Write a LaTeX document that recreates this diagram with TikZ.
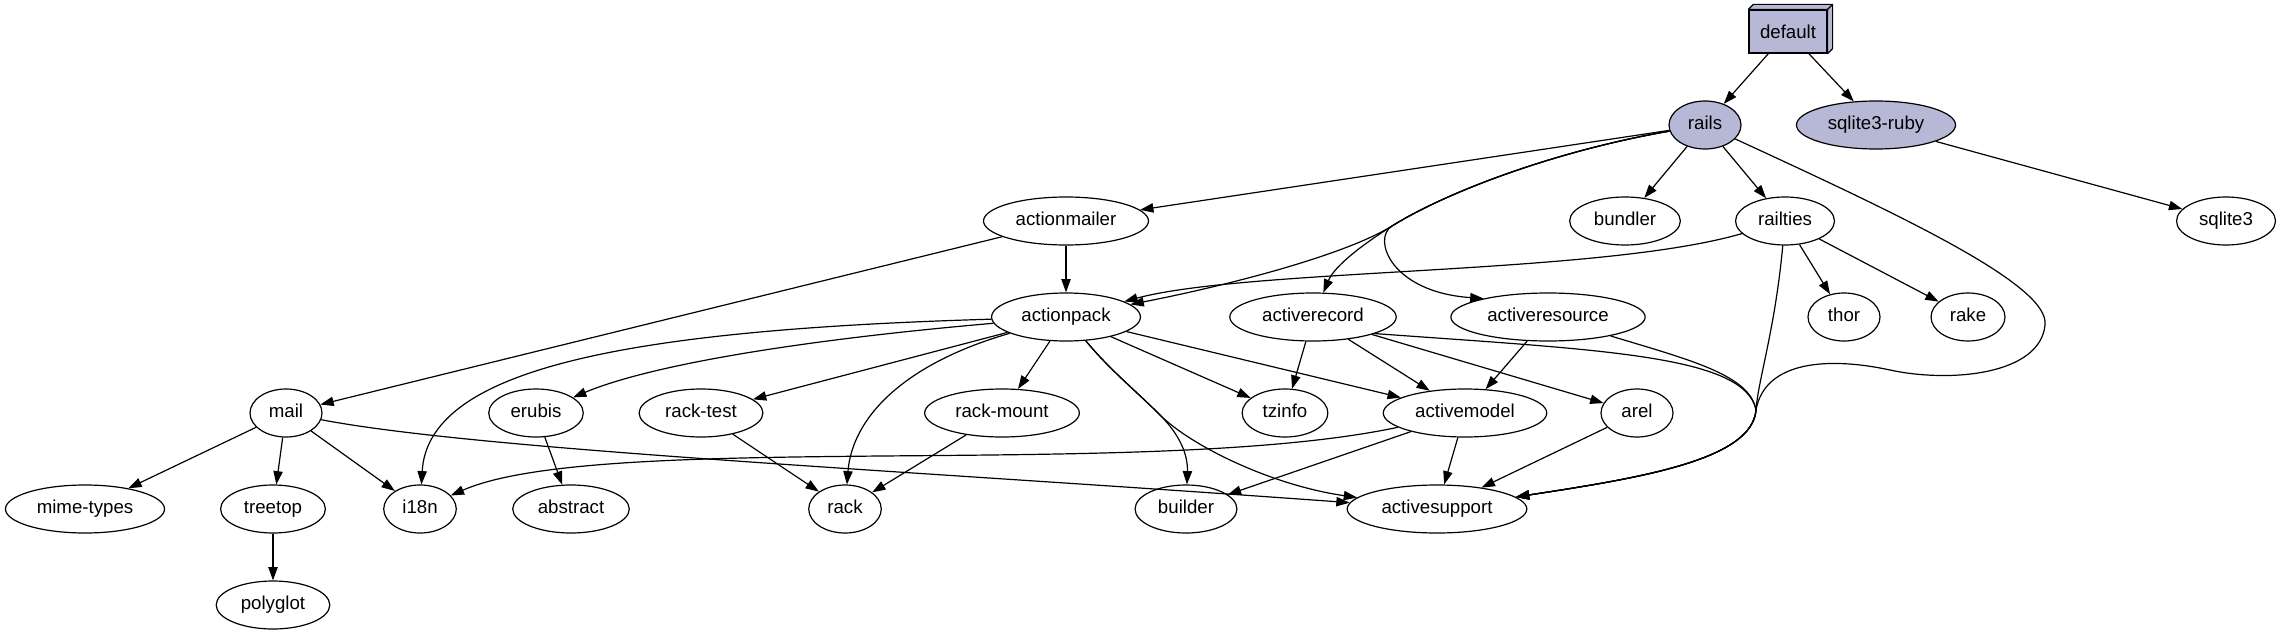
\documentclass[tikz,border=0pt]{standalone}
\usepackage{fontspec}
\setmainfont{Liberation Sans}
\usepackage{xcolor}
\usetikzlibrary{arrows.meta,shapes.geometric}
\definecolor{gemfill}{RGB}{183,183,214}

\begin{document}
\begin{tikzpicture}[
    x=0.75pt, y=-0.75pt,
    gem/.style={draw, ellipse, line width=0.9pt, minimum width=54pt,
                minimum height=36pt, inner xsep=6pt, inner ysep=0pt,
                text height=10pt, text depth=3pt,
                font=\fontsize{14}{16}\selectfont},
    top/.style={gem, fill=gemfill},
    box/.style={draw, rectangle, fill=gemfill, line width=0.9pt,
                minimum width=58.5pt, minimum height=32.25pt, inner sep=0pt,
                font=\fontsize{14}{16}\selectfont},
    dep/.style={->, line width=0.9pt},
    >={Triangle[length=10pt, width=7pt]}
  ]
  \useasboundingbox (0,0) rectangle (2283,635);

  % root box
  \node[box] (default) at (1788,31.5) {default};
  \filldraw[fill=gemfill, line width=0.9pt, line join=round]
    (default.north west) -- ++(5,-5) -| ([shift={(5,-5)}]default.south east)
    -- (default.south east) -- (default.north east) -- cycle;
  \draw[line width=0.9pt] (default.north east) -- ++(5,-5);

  % gems
  \node[top] (rails) at (1705,125) {rails};
  \node[top] (sqruby) at (1876,125) {sqlite3-ruby};

  \node[gem] (amailer) at (1066,221) {actionmailer};
  \node[gem] (bundler) at (1625,221) {bundler};
  \node[gem] (railties) at (1785,221) {railties};
  \node[gem] (sqlite) at (2226,221) {sqlite3};

  \node[gem] (apack) at (1066,317) {actionpack};
  \node[gem] (arecord) at (1313,317) {activerecord};
  \node[gem] (aresource) at (1548,317) {activeresource};
  \node[gem] (thor) at (1844,317) {thor};
  \node[gem] (rake) at (1968,317) {rake};

  \node[gem] (mail) at (286,413) {mail};
  \node[gem] (erubis) at (536,413) {erubis};
  \node[gem] (racktest) at (701,413) {rack-test};
  \node[gem] (rackmount) at (1002,413) {rack-mount};
  \node[gem] (tzinfo) at (1285,413) {tzinfo};
  \node[gem] (amodel) at (1465,413) {activemodel};
  \node[gem] (arel) at (1637,413) {arel};

  \node[gem] (mimetypes) at (85,509) {mime-types};
  \node[gem] (treetop) at (273,509) {treetop};
  \node[gem] (i18n) at (420,509) {i18n};
  \node[gem] (abstract) at (571,509) {abstract};
  \node[gem] (rack) at (845,509) {rack};
  \node[gem] (builder) at (1186,509) {builder};
  \node[gem] (asupport) at (1437,509) {activesupport};

  \node[gem] (polyglot) at (273,605) {polyglot};

  % straight deps
  \draw[dep] (default) -- (rails);
  \draw[dep] (default) -- (sqruby);
  \draw[dep] (sqruby) -- (sqlite);
  \draw[dep] (rails) -- (amailer);
  \draw[dep] (rails) -- (bundler);
  \draw[dep] (rails) -- (railties);
  \draw[dep] (railties) -- (thor);
  \draw[dep] (railties) -- (rake);
  \draw[dep] (amailer) -- (apack);
  \draw[dep] (amailer) -- (mail);
  \draw[dep] (apack) -- (racktest);
  \draw[dep] (apack) -- (rackmount);
  \draw[dep] (apack) -- (tzinfo);
  \draw[dep] (apack) -- (amodel);
  \draw[dep] (arecord) -- (tzinfo);
  \draw[dep] (arecord) -- (amodel);
  \draw[dep] (arecord) -- (arel);
  \draw[dep] (aresource) -- (amodel);
  \draw[dep] (amodel) -- (builder);
  \draw[dep] (amodel) -- (asupport);
  \draw[dep] (arel) -- (asupport);
  \draw[dep] (mail) -- (mimetypes);
  \draw[dep] (mail) -- (treetop);
  \draw[dep] (mail) -- (i18n);
  \draw[dep] (erubis) -- (abstract);
  \draw[dep] (racktest) -- (rack);
  \draw[dep] (rackmount) -- (rack);
  \draw[dep] (treetop) -- (polyglot);

  % rails trunk, split at (1392,226)
  \draw[dep] (rails) .. controls (1560,150) and (1450,190) .. (1392,226)
    .. controls (1345,255) and (1230,285) .. (apack);
  \draw[dep] (rails) .. controls (1560,150) and (1450,190) .. (1392,226)
    .. controls (1365,243) and (1335,265) .. (arecord);
  \draw[dep] (rails) .. controls (1560,150) and (1450,190) .. (1392,226)
    .. controls (1372,238) and (1390,292) .. (aresource.164);

  % other curves
  \draw[dep] (railties) .. controls (1600,275) and (1250,268) .. (apack);
  \draw[dep] (apack) .. controls (620,330) and (428,370) .. (i18n);
  \draw[dep] (apack) .. controls (800,340) and (650,365) .. (erubis);
  \draw[dep] (apack) .. controls (900,365) and (852,420) .. (rack);
  \draw[dep] (apack) .. controls (1110,370) and (1135,390) .. (1160,415)
    .. controls (1180,435) and (1188,455) .. (builder);
  \draw[dep] (apack) .. controls (1110,370) and (1135,390) .. (1160,415)
    .. controls (1190,445) and (1270,485) .. (asupport);
  \draw[dep] (amodel) .. controls (1150,480) and (600,430) .. (i18n);
  \draw[dep] (mail) .. controls (480,450) and (900,470) .. (asupport);

  % long ones into activesupport
  \draw[dep] (rails) .. controls (1900,215) and (2050,285) .. (2045,325)
    .. controls (2040,375) and (1950,383) .. (1890,370)
    .. controls (1830,357) and (1765,360) .. (1756,410)
    .. controls (1752,460) and (1640,478) .. (asupport);
  \draw[dep] (arecord.-15) .. controls (1600,350) and (1745,355) .. (1756,410)
    .. controls (1752,460) and (1640,478) .. (asupport);
  \draw[dep] (aresource) .. controls (1690,360) and (1750,375) .. (1756,410)
    .. controls (1752,460) and (1640,478) .. (asupport);
  \draw[dep] (railties) .. controls (1775,330) and (1758,380) .. (1756,410)
    .. controls (1752,460) and (1640,478) .. (asupport);
\end{tikzpicture}
\end{document}
